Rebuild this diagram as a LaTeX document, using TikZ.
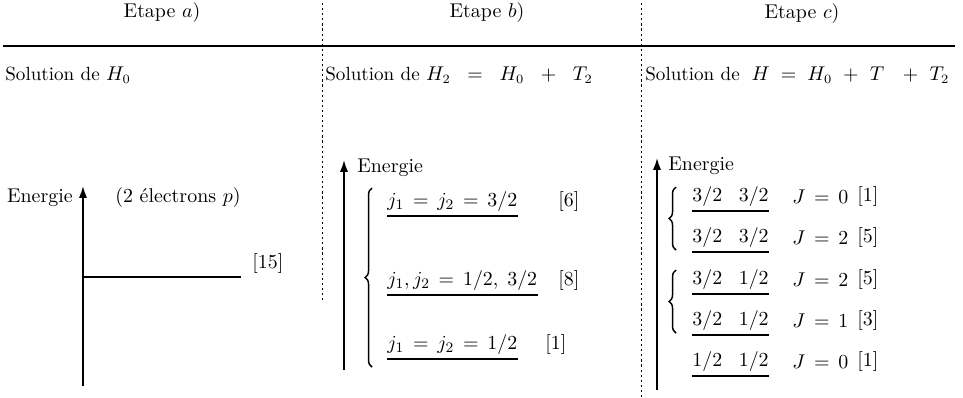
\documentclass[tikz,border=0pt]{standalone}
\usetikzlibrary{arrows.meta,decorations.pathreplacing}
\newcommand{\opgap}[1]{\mkern#1mu}
\tikzset{
  every node/.style={font=\fontsize{10.95}{13}\selectfont},
  axis/.style={line width=0.9pt, -{Latex[length=6.5pt,width=4.5pt]}},
  divider/.style={line width=0.5pt, dash pattern=on 1.2pt off 1.6pt},
  levelline/.style={line width=0.7pt},
  grp/.style={decorate, decoration={brace, amplitude=3.8pt}, line width=0.8pt},
  txt/.style={inner sep=0pt, anchor=west},
  soltxt/.style={txt, font=\fontsize{10.5}{12}\selectfont},
}
\begin{document}
\begin{tikzpicture}[x=0.55pt, y=-0.55pt]
  \useasboundingbox (0,0) rectangle (963,397);
  % column heads and rules
  \node (ha) at (162,13) {Etape $a)$};
  \node (hb) at (487,13) {Etape $b)$};
  \node (hc) at (802,14) {Etape $c)$};
  \draw[line width=0.7pt] (3,46) -- (955,46);
  \draw[divider] (322,3) -- (322,300);
  \draw[divider] (641,3) -- (641,397);
  \node[soltxt] (sa) at (5,75) {Solution de $H_0$};
  \node[soltxt] (sb) at (325,75) {Solution de $H_2 \opgap{15}{=}\opgap{15} H_0 \opgap{15}{+}\opgap{15} T_2$};
  \node[soltxt] (sc) at (645,75) {Solution de $\;H \opgap{10}{=}\opgap{10} H_0 \opgap{10}{+}\opgap{10} T \opgap{17}{+}\opgap{10} T_2$};

  % step a)
  \coordinate (a0) at (83,386);
  \coordinate (a1) at (83,186);
  \draw[axis] (a0) -- (a1);
  \node[txt, anchor=east] (ea) at (73,198) {Energie};
  \node[txt] (pa) at (115,198) {(2 électrons $p$)};
  \coordinate (la) at (83,277);
  \coordinate (lb) at (241,277);
  \draw[levelline] (la) -- (lb);
  \node[txt] (ga) at (252,264) {[15]};

  % step b)
  \coordinate (b0) at (344,370);
  \coordinate (b1) at (344,160);
  \draw[axis] (b0) -- (b1);
  \node[txt] (eb) at (357,168) {Energie};
  \node[txt] (jA) at (387,202) {$j_1 \,=\, j_2 \,=\, 3/2$};
  \node[txt] (jB) at (387,281) {$j_1, j_2 \,=\, 1/2,\; 3/2$};
  \node[txt] (jC) at (387,345) {$j_1 \,=\, j_2 \,=\, 1/2$};
  \foreach \n in {jA,jB,jC}
    \draw[levelline] ([yshift=-2pt]\n.south west) -- ([yshift=-2pt]\n.south east);
  \node[txt] (gA) at (558,202) {[6]};
  \node[txt] (gB) at (558,281) {[8]};
  \node[txt] (gC) at (545,345) {[1]};
  \draw[grp] (372,367) -- (372,188);

  % step c)
  \coordinate (c0) at (657,390);
  \coordinate (c1) at (657,158);
  \draw[axis] (c0) -- (c1);
  \node[txt] (ec) at (668,166) {Energie};
  \foreach \n/\y/\ja/\J/\g in {1/197/3/0/1, 2/238/3/2/5, 3/280/1/2/5, 4/321/1/1/3, 5/362/1/0/1}{
    \ifnum\n=5
      \node[txt] (r\n) at (692,\y) {$1/2\mkern15mu 1/2$};
    \else
      \node[txt] (r\n) at (692,\y) {$3/2\mkern15mu \ja/2$};
    \fi
    \draw[levelline] ([yshift=-2pt]r\n.south west) -- ([yshift=-2pt]r\n.south east);
    \node[txt] (J\n) at (792,\y) {$J \,=\, \J$};
    \node[txt] (g\n) at (857,\y) {[\g]};
  }
  \draw[grp] (676,250) -- (676,187);
  \draw[grp] (676,333) -- (676,270);
\end{tikzpicture}
\end{document}
